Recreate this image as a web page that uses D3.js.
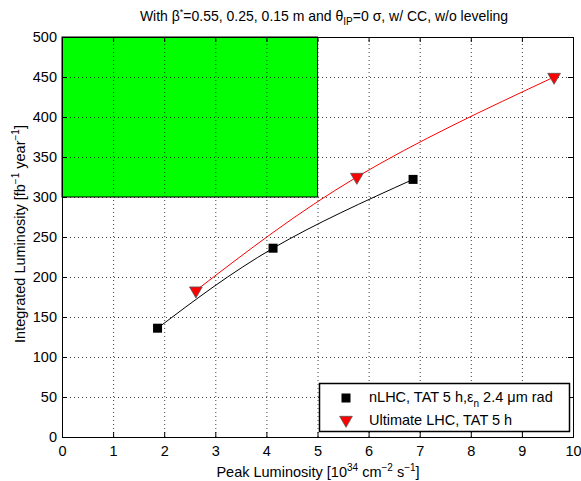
<!DOCTYPE html>
<html>
<head>
<meta charset="utf-8">
<script src="https://cdn.jsdelivr.net/npm/d3@7"></script>
<style>
  html, body { margin: 0; padding: 0; background: #fff; }
  svg text { font-family: "Liberation Sans", Arial, Helvetica, sans-serif; fill: #000; }
</style>
</head>
<body>
<svg id="chart" width="581" height="481"></svg>
<script>
// Peak luminosity [1e34 cm^-2 s^-1] vs integrated luminosity [fb^-1 / year]
const nlhcPeak = [1.87, 4.13, 6.87];
const nlhcIntegrated = [136, 236, 322];
const ultimatePeak = [2.62, 5.77, 9.63];
const ultimateIntegrated = [183, 325, 450];

// Target region (shaded)
const targetPeak = [0, 5];
const targetIntegrated = [300, 500];

const xTicks = [0, 1, 2, 3, 4, 5, 6, 7, 8, 9, 10];
const yTicks = [0, 50, 100, 150, 200, 250, 300, 350, 400, 450, 500];

const svg = d3.select("#chart");
const margin = { left: 62, right: 8, top: 37, bottom: 44 };
const W = 581, H = 481;
const FS = 14.5;   // axis / legend font size
const SUP = 10;    // superscript / subscript size

const x = d3.scaleLinear().domain([0, 10]).range([margin.left, W - margin.right]);
const y = d3.scaleLinear().domain([0, 500]).range([H - margin.bottom, margin.top]);

// Shaded target region
svg.append("rect")
  .attr("x", x(targetPeak[0]))
  .attr("y", y(targetIntegrated[1]))
  .attr("width", x(targetPeak[1]) - x(targetPeak[0]))
  .attr("height", y(targetIntegrated[0]) - y(targetIntegrated[1]))
  .attr("fill", "#00ff00")
  .attr("stroke", "#000")
  .attr("stroke-width", 1);

// Dotted grid
const grid = svg.append("g").attr("stroke", "#000").attr("stroke-width", 1)
  .attr("stroke-dasharray", "1,3").attr("opacity", 0.75);
grid.selectAll("line.gx").data(xTicks.slice(1, -1)).join("line")
  .attr("x1", d => x(d) + 0.5).attr("x2", d => x(d) + 0.5)
  .attr("y1", y(0)).attr("y2", y(500));
grid.selectAll("line.gy").data(yTicks.slice(1, -1)).join("line")
  .attr("y1", d => y(d) + 0.5).attr("y2", d => y(d) + 0.5)
  .attr("x1", x(0)).attr("x2", x(10));

// Axes with inward ticks
const tick = 5;
const xAxisB = d3.axisBottom(x).tickValues(xTicks).tickSize(-tick).tickPadding(9).tickFormat(d3.format("d"));
const xAxisT = d3.axisTop(x).tickValues(xTicks).tickSize(-tick).tickFormat("");
const yAxisL = d3.axisLeft(y).tickValues(yTicks).tickSize(-tick).tickPadding(5).tickFormat(d3.format("d"));
const yAxisR = d3.axisRight(y).tickValues(yTicks).tickSize(-tick).tickFormat("");

function styleAxis(g) {
  g.select(".domain").attr("stroke", "#000").attr("stroke-width", 1);
  g.selectAll(".tick line").attr("stroke", "#000");
  g.selectAll(".tick text").attr("font-size", FS).attr("font-family", "Liberation Sans, Arial, sans-serif");
}
svg.append("g").attr("transform", `translate(0,${y(0)})`).call(xAxisB).call(styleAxis);
svg.append("g").attr("transform", `translate(0,${y(500)})`).call(xAxisT).call(styleAxis);
svg.append("g").attr("transform", `translate(${x(0)},0)`).call(yAxisL).call(styleAxis);
svg.append("g").attr("transform", `translate(${x(10)},0)`).call(yAxisR).call(styleAxis);

// Curves through the points
const line = d3.line().x(d => x(d[0])).y(d => y(d[1])).curve(d3.curveNatural);
const nlhc = nlhcPeak.map((p, i) => [p, nlhcIntegrated[i]]);
const ult = ultimatePeak.map((p, i) => [p, ultimateIntegrated[i]]);

svg.append("path").datum(nlhc).attr("d", line)
  .attr("fill", "none").attr("stroke", "#000").attr("stroke-width", 1);
svg.append("path").datum(ult).attr("d", line)
  .attr("fill", "none").attr("stroke", "#ff0000").attr("stroke-width", 1);

// Markers
const sq = 9;
svg.selectAll("rect.nlhc").data(nlhc).join("rect")
  .attr("x", d => x(d[0]) - sq / 2).attr("y", d => y(d[1]) - sq / 2)
  .attr("width", sq).attr("height", sq).attr("fill", "#000");
const tri = d3.symbol().type(d3.symbolTriangle).size(70);
svg.selectAll("path.ult").data(ult).join("path")
  .attr("d", tri)
  .attr("transform", d => `translate(${x(d[0])},${y(d[1])}) rotate(180)`)
  .attr("fill", "#ff0000").attr("stroke", "#555").attr("stroke-width", 0.8);

// Title
const title = svg.append("text").attr("x", 324).attr("y", 21)
  .attr("text-anchor", "middle").attr("font-size", 14);
title.append("tspan").text("With β");
title.append("tspan").attr("dy", -6).attr("font-size", 9).text("*");
title.append("tspan").attr("dy", 6).text("=0.55, 0.25, 0.15 m and θ");
title.append("tspan").attr("dy", 4).attr("font-size", SUP).text("IP");
title.append("tspan").attr("dy", -4).text("=0 σ, w/ CC, w/o leveling");

// X label
const xl = svg.append("text").attr("x", 318).attr("y", 477)
  .attr("text-anchor", "middle").attr("font-size", FS);
xl.append("tspan").text("Peak Luminosity [10");
xl.append("tspan").attr("dy", -6).attr("font-size", SUP).text("34");
xl.append("tspan").attr("dy", 6).text(" cm");
xl.append("tspan").attr("dy", -6).attr("font-size", SUP).text("−2");
xl.append("tspan").attr("dy", 6).text(" s");
xl.append("tspan").attr("dy", -6).attr("font-size", SUP).text("−1");
xl.append("tspan").attr("dy", 6).text("]");

// Y label
const yl = svg.append("text")
  .attr("transform", `translate(25,234) rotate(-90)`)
  .attr("text-anchor", "middle").attr("font-size", FS);
yl.append("tspan").text("Integrated Luminosity [fb");
yl.append("tspan").attr("dy", -6).attr("font-size", SUP).text("−1");
yl.append("tspan").attr("dy", 6).text(" year");
yl.append("tspan").attr("dy", -6).attr("font-size", SUP).text("−1");
yl.append("tspan").attr("dy", 6).text("]");

// Legend
const lg = svg.append("g");
lg.append("rect").attr("x", 319.5).attr("y", 383.5).attr("width", 250).attr("height", 48)
  .attr("fill", "#fff").attr("stroke", "#000").attr("stroke-width", 1.5);
lg.append("rect").attr("x", 346 - sq / 2).attr("y", 398 - sq / 2).attr("width", sq).attr("height", sq).attr("fill", "#000");
lg.append("path").attr("d", tri).attr("transform", "translate(346,420) rotate(180)")
  .attr("fill", "#ff0000").attr("stroke", "#555").attr("stroke-width", 0.8);
const t1 = lg.append("text").attr("x", 369).attr("y", 402).attr("font-size", FS);
t1.append("tspan").text("nLHC, TAT 5 h,ε");
t1.append("tspan").attr("dy", 5).attr("font-size", SUP).text("n");
t1.append("tspan").attr("dy", -5).text(" 2.4 μm rad");
lg.append("text").attr("x", 369).attr("y", 425).attr("font-size", FS).text("Ultimate LHC, TAT 5 h");
</script>
</body>
</html>
